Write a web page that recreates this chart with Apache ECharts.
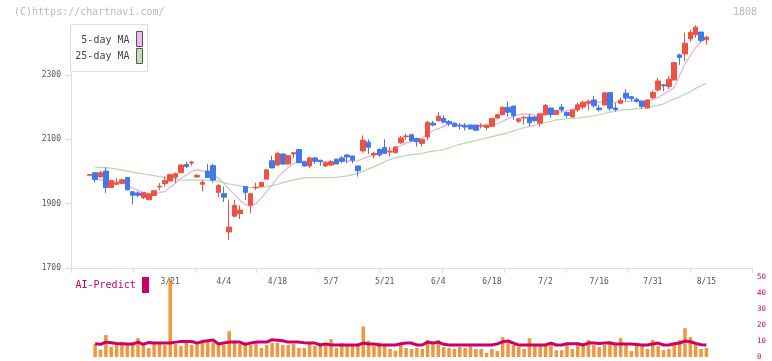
<!DOCTYPE html>
<html>
<head>
<meta charset="utf-8">
<script src="https://cdn.jsdelivr.net/npm/echarts/dist/echarts.min.js"></script>
<style>html,body{margin:0;padding:0;background:#fff;}#c{width:772px;height:361px;}</style>
</head>
<body>
<div id="c"></div>
<script>
// ---- data ----
const dates = [
'2/28','2/29','3/1','3/4','3/5','3/6','3/7','3/8','3/11','3/12',
'3/13','3/14','3/15','3/18','3/19','3/21','3/22','3/25','3/26','3/27',
'3/28','3/29','4/1','4/2','4/3','4/4','4/5','4/8','4/9','4/10',
'4/11','4/12','4/15','4/16','4/17','4/18','4/19','4/22','4/23','4/24',
'4/25','4/26','4/30','5/1','5/2','5/7','5/8','5/9','5/10','5/13',
'5/14','5/15','5/16','5/17','5/20','5/21','5/22','5/23','5/24','5/27',
'5/28','5/29','5/30','5/31','6/3','6/4','6/5','6/6','6/7','6/10',
'6/11','6/12','6/13','6/14','6/17','6/18','6/19','6/20','6/21','6/24',
'6/25','6/26','6/27','6/28','7/1','7/2','7/3','7/4','7/5','7/8',
'7/9','7/10','7/11','7/12','7/15','7/16','7/17','7/18','7/19','7/22',
'7/23','7/24','7/25','7/26','7/29','7/31','8/1','8/2','8/5','8/6',
'8/7','8/8','8/9','8/13','8/14','8/15'];
const labelDates = ['3/21','4/4','4/18','5/7','5/21','6/4','6/18','7/2','7/16','7/31','8/15'];
const opens = [
1988,1996,1983,2001,1950,1960,1963,1981,1937,1933,
1919,1912,1925,1952,1962,1970,1982,1996,2022,2026,
1983,1960,2001,2018,1935,1931,1812,1861,1869,1953,
1895,1949,1953,1976,2033,2020,2054,2023,2054,2068,
2030,2017,2042,2035,2017,2020,2038,2042,2051,2048,
2017,2064,2091,2051,2068,2074,2060,2058,2089,2108,
2114,2102,2087,2107,2150,2158,2165,2155,2150,2143,
2142,2144,2144,2141,2136,2140,2166,2176,2199,2203,
2156,2166,2169,2169,2150,2176,2197,2177,2200,2183,
2169,2191,2200,2212,2222,2197,2206,2245,2197,2212,
2243,2232,2224,2218,2197,2230,2253,2269,2264,2284,
2362,2365,2412,2425,2433,2409];
const closes = [
1990,1975,1996,1950,1971,1965,1974,1943,1926,1926,
1934,1930,1940,1954,1972,1990,1993,2020,2015,2029,
1988,1966,1981,1973,1956,1920,1827,1895,1880,1935,
1931,1951,1966,2005,2011,2056,2023,2049,2058,2027,
2017,2042,2032,2030,2027,2030,2023,2032,2045,2035,
2002,2097,2075,2056,2051,2056,2062,2076,2104,2110,
2095,2092,2100,2152,2144,2171,2153,2148,2140,2141,
2138,2132,2128,2143,2144,2165,2176,2199,2184,2173,
2164,2168,2151,2158,2179,2205,2177,2189,2191,2174,
2191,2207,2215,2218,2204,2192,2244,2196,2192,2221,
2228,2226,2217,2202,2222,2245,2281,2266,2286,2338,
2354,2398,2432,2448,2407,2417];
const lows = [
1988,1966,1981,1933,1950,1958,1961,1941,1897,1920,
1914,1912,1925,1941,1953,1970,1964,1996,2010,2018,
1980,1938,1980,1966,1920,1905,1787,1857,1852,1911,
1870,1943,1953,1976,2011,2017,2020,2023,2041,2027,
2015,2010,2023,2017,2014,2017,2023,2026,2026,2026,
1984,2058,2054,2041,2046,2056,2046,2058,2086,2098,
2092,2077,2077,2098,2140,2154,2152,2140,2137,2130,
2127,2132,2128,2133,2128,2140,2162,2176,2170,2160,
2150,2146,2139,2153,2139,2176,2167,2177,2184,2167,
2169,2184,2193,2189,2198,2186,2206,2188,2186,2210,
2218,2218,2214,2194,2197,2225,2248,2249,2256,2284,
2331,2343,2403,2415,2400,2394];
const highs = [
1990,1998,2002,2013,1974,1979,1977,1981,1937,1938,
1934,1932,1943,1964,1985,1993,1997,2022,2030,2033,
1992,1974,2023,2023,1961,1953,1912,1912,1895,1953,
1931,1965,1968,2005,2049,2061,2056,2051,2061,2070,
2030,2045,2045,2035,2032,2035,2040,2048,2054,2048,
2017,2112,2100,2061,2072,2100,2076,2076,2110,2117,
2117,2105,2100,2157,2157,2184,2175,2160,2152,2150,
2150,2144,2144,2150,2145,2165,2179,2202,2217,2203,
2164,2172,2179,2172,2179,2210,2197,2189,2210,2186,
2191,2214,2220,2223,2234,2207,2247,2247,2213,2230,
2256,2234,2230,2218,2222,2251,2290,2272,2296,2338,
2366,2431,2440,2454,2433,2422];
const ma5 = [
null,1975,1974,1974,1972,1970,1964,1957,1948,1941,
1935,1932,1931,1934,1938,1951,1964,1978,1989,2000,
2005,2002,2000,1989,1978,1964,1945,1928,1910,1897,
1892,1900,1917,1938,1958,1980,1998,2012,2024,2030,
2032,2033,2032,2031,2030,2030,2031,2032,2033,2032,
2033,2040,2046,2052,2056,2061,2066,2072,2080,2088,
2093,2097,2104,2117,2127,2133,2140,2148,2146,2144,
2144,2144,2143,2141,2140,2144,2148,2156,2164,2171,
2177,2179,2177,2175,2174,2176,2181,2183,2185,2189,
2193,2198,2205,2209,2214,2215,2215,2215,2215,2215,
2217,2218,2220,2220,2220,2224,2230,2240,2251,2261,
2298,2335,2360,2385,2403,2415];
const ma25 = [
null,2012,2012,2011,2010,2007,2004,2001,1998,1995,
1992,1990,1987,1984,1981,1979,1977,1974,1973,1973,
1973,1973,1973,1972,1969,1965,1961,1958,1955,1953,
1950,1950,1951,1953,1956,1960,1965,1970,1974,1977,
1980,1981,1981,1981,1981,1981,1982,1984,1986,1990,
1994,2000,2008,2015,2022,2030,2037,2042,2046,2049,
2052,2054,2056,2060,2063,2065,2068,2073,2079,2084,
2088,2092,2096,2100,2104,2108,2112,2116,2120,2126,
2131,2136,2139,2144,2148,2152,2156,2160,2162,2164,
2165,2166,2168,2170,2173,2176,2180,2184,2187,2190,
2192,2193,2195,2196,2198,2202,2205,2210,2218,2225,
2232,2240,2248,2258,2266,2274];
const predBars = [
null,
8.1,4.6,13.7,6.4,7.5,9.5,7.5,9.1,11.8,8.1,
5.6,9.1,8.1,7.5,49,8.1,7,9.1,7.5,8.1,
9.1,10.2,9.1,7.5,7.5,16.1,10.2,8.1,9.1,7.5,
9.1,5.6,7.5,8.7,8.7,7.5,7.5,8.1,5.6,5.6,
8.1,7,8.7,7,11.2,5.6,8.7,7,7,7,
19.1,10.2,7,9.1,7,5,4,7.5,5.6,5,
5.6,5,10.6,8.7,10.6,6.2,5.6,5,6.2,5.6,
6.6,5,5,2.5,5,3.7,12.4,8.7,7.5,6.2,
5,11.8,7.5,7.5,7.5,8.7,4.3,4.3,7.5,5,
9.3,7.5,10.6,7.5,6.2,7.5,10,7.5,11.8,7.5,
3.7,7.5,7.5,5,10.6,6.8,4.3,5,7.5,10.6,
18,12.4,8.7,5,5.6];
const predLine = [
null,
8.3,7.9,9.3,8.9,8.5,8.3,8.1,8.1,9.3,7.9,
9.1,8.7,8.7,8.7,8.7,9.3,9.7,9.7,9.7,8.7,
9.7,10.2,10.6,8.1,8.7,9.3,9.3,9.3,7.9,8.7,
9.3,9.3,9.3,10.8,10.5,10.2,9.3,9.3,9.3,8.9,
8.7,8.7,7.5,8.1,7.5,7.5,7.5,7.5,7.5,7.5,
8.7,8.1,8.1,7.5,7.5,7.5,7.5,8.3,8.7,8.7,
7.5,7.5,9.3,8.7,9.3,7.9,7.5,7.5,7.5,7.5,
7.5,7.5,7.5,7.5,7.5,8.2,9.5,10,8.7,7.5,
7.5,7.5,7.5,7.5,7.5,8.7,7.5,7.5,8.3,8.3,
8.3,7.5,8.7,8.7,8.5,8.7,8.7,8.1,8.1,8.1,
8.1,7.8,7.5,7.5,8.1,8.7,7.5,7.5,8.3,8.7,
10,9.5,8.5,7.7,7.5];
const priceTicks = [1700,1900,2100,2300];

// ---- build ----
const PAD_L = 3, PAD_R = 8;
const cats = [];
for (let i = 0; i < PAD_L; i++) cats.push('_l' + i);
dates.forEach(d => cats.push(d));
for (let i = 0; i < PAD_R; i++) cats.push('_r' + i);

const candleData = dates.map((d, i) => [i + PAD_L, opens[i], closes[i], lows[i], highs[i]]);
const pairs = arr => arr.map((v, i) => [i + PAD_L, v]).filter(p => p[1] != null);

const MONO = '"DejaVu Sans Mono", "Liberation Mono", monospace';
const RED = '#ef5242', BLUE = '#4279e8';

const chart = echarts.init(document.getElementById('c'), null, {renderer: 'canvas'});
chart.setOption({
  animation: false,
  grid: [
    {left: 71, right: 20, top: 24, bottom: 93},
    {left: 71, right: 20, top: 277, height: 81}
  ],
  xAxis: [
    {type: 'category', gridIndex: 0, data: cats, boundaryGap: true,
     axisLine: {show: false}, axisTick: {show: false}, splitLine: {show: false},
     axisLabel: {interval: (idx, val) => labelDates.indexOf(val) >= 0, fontSize: 8, color: '#555',
                 fontFamily: MONO, margin: 10}},
    {type: 'value', gridIndex: 0, position: 'bottom', min: 0, max: 11, interval: 1,
     axisLine: {show: true, lineStyle: {color: '#dddddd', width: 1}},
     axisTick: {show: true, length: 5, lineStyle: {color: '#dddddd'}},
     axisLabel: {show: false}, splitLine: {show: false}},
    {type: 'category', gridIndex: 1, data: cats, boundaryGap: true, show: false}
  ],
  yAxis: [
    {type: 'value', gridIndex: 0, min: 1700, max: 2458, scale: false,
     axisLine: {show: true, lineStyle: {color: '#dddddd'}},
     axisTick: {show: true, length: 5, customValues: priceTicks, lineStyle: {color: '#dddddd'}},
     axisLabel: {customValues: priceTicks, formatter: v => String(v), fontSize: 8, color: '#555',
                 fontFamily: MONO, margin: 10},
     splitLine: {show: false}},
    {type: 'value', gridIndex: 1, position: 'right', min: 0, max: 50, interval: 10,
     axisLine: {show: false}, axisTick: {show: false}, splitLine: {show: false},
     axisLabel: {formatter: v => String(v), fontSize: 7.5, color: '#cc0066', fontFamily: MONO, margin: 5}}
  ],
  series: [
    {type: 'candlestick', xAxisIndex: 0, yAxisIndex: 0, data: candleData,
     encode: {x: 0, y: [1, 2, 3, 4]}, barWidth: 5,
     itemStyle: {color: RED, color0: BLUE, borderColor: RED, borderColor0: BLUE, borderWidth: 1}},
    {type: 'line', xAxisIndex: 0, yAxisIndex: 0, data: pairs(ma5), symbol: 'none',
     lineStyle: {color: '#e6aee8', width: 1.2}, z: 1},
    {type: 'line', xAxisIndex: 0, yAxisIndex: 0, data: pairs(ma25), symbol: 'none',
     lineStyle: {color: '#b3dba6', width: 1.2}, z: 1},
    {type: 'bar', xAxisIndex: 2, yAxisIndex: 1, data: pairs(predBars), barWidth: 3.5,
     itemStyle: {color: '#f0963e'}},
    {type: 'line', xAxisIndex: 2, yAxisIndex: 1, data: pairs(predLine), symbol: 'none',
     lineStyle: {color: '#cc0066', width: 3}, z: 3}
  ],
  graphic: [
    {type: 'text', left: 14, top: 7, z: 100,
     style: {text: '(C)https://chartnavi.com/', fill: '#bbbbbb', font: '10px ' + MONO}},
    {type: 'text', right: 15, top: 7, z: 100,
     style: {text: '1808', fill: '#bbbbbb', font: '10px ' + MONO}},
    {type: 'rect', z: 100, shape: {x: 70.5, y: 24.5, width: 77, height: 47},
     style: {fill: '#ffffff', stroke: '#dddddd', lineWidth: 1}},
    {type: 'text', z: 101, x: 129.5, y: 40.5,
     style: {text: '5-day MA', fill: '#444', font: '10px ' + MONO, align: 'right', verticalAlign: 'middle'}},
    {type: 'text', z: 101, x: 129.5, y: 56.5,
     style: {text: '25-day MA', fill: '#444', font: '10px ' + MONO, align: 'right', verticalAlign: 'middle'}},
    {type: 'rect', z: 101, shape: {x: 136.5, y: 31.5, width: 6, height: 15},
     style: {fill: '#efb8ef', stroke: '#555', lineWidth: 1}},
    {type: 'rect', z: 101, shape: {x: 136.5, y: 48.5, width: 6, height: 15},
     style: {fill: '#bde0b4', stroke: '#555', lineWidth: 1}},
    {type: 'text', z: 101, x: 75.5, y: 285.5,
     style: {text: 'AI-Predict', fill: '#cc0066', font: '10px ' + MONO, align: 'left', verticalAlign: 'middle'}},
    {type: 'rect', z: 101, shape: {x: 142, y: 277, width: 7, height: 16},
     style: {fill: '#cc0066'}}
  ]
});
</script>
</body>
</html>
